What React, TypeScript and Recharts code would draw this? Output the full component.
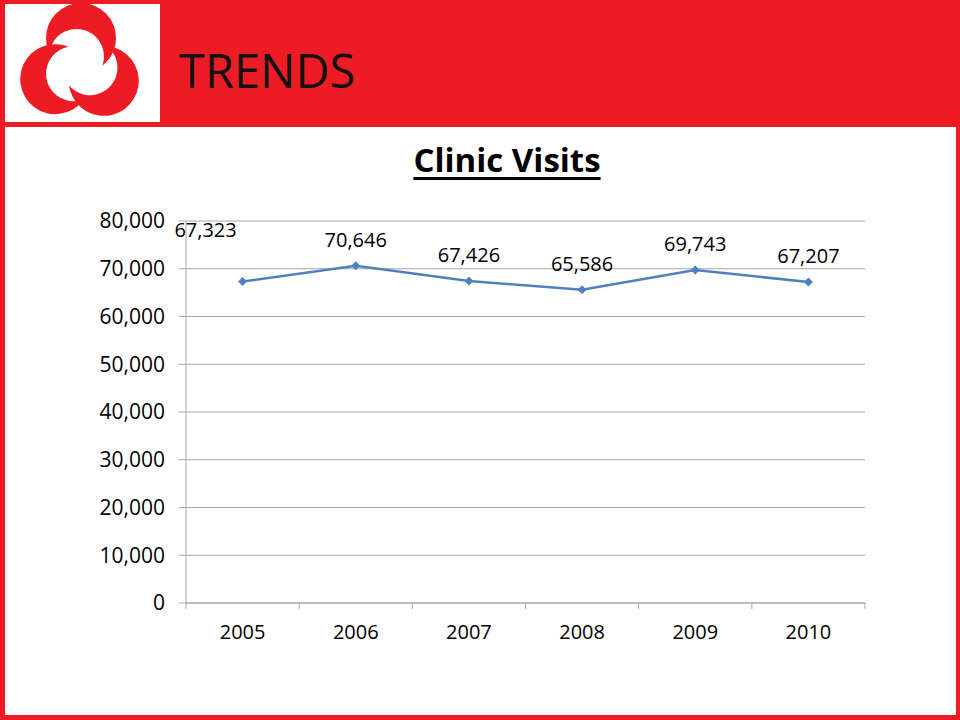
import { LineChart, Line, XAxis, YAxis, CartesianGrid, LabelList } from "recharts";

const years = ["2005", "2006", "2007", "2008", "2009", "2010"];
const visits = [67323, 70646, 67426, 65586, 69743, 67207];
const yTicks = [0, 10000, 20000, 30000, 40000, 50000, 60000, 70000, 80000];

const data = years.map((year, i) => ({ year, visits: visits[i] }));

const RED = "#ED1C24";
const GRID = "#A6A6A6";
const FONT = "'Open Sans', sans-serif";
const PLOT_LEFT = 186;
const PLOT_RIGHT = 865;
const BAND = (PLOT_RIGHT - PLOT_LEFT) / years.length;

const fmt = (v: number) => v.toLocaleString("en-US");

function XTick(props: any) {
  const { x, y, payload, index } = props;
  return (
    <g>
      <line x1={x - BAND / 2} x2={x - BAND / 2} y1={y} y2={y + 6} stroke={GRID} />
      {index === years.length - 1 && (
        <line x1={x + BAND / 2} x2={x + BAND / 2} y1={y} y2={y + 6} stroke={GRID} />
      )}
      <text x={x} y={y + 31} textAnchor="middle" dominantBaseline="middle" fontFamily={FONT} fontSize={20} fill="#000">
        {payload.value}
      </text>
    </g>
  );
}

function Diamond(props: any) {
  const { cx, cy } = props;
  if (cx == null || cy == null) return null;
  const r = 4.5;
  return (
    <polygon
      points={`${cx},${cy - r} ${cx + r},${cy} ${cx},${cy + r} ${cx - r},${cy}`}
      fill="#4F81BD"
    />
  );
}

function ValueLabel(props: any) {
  const { x, y, value, index } = props;
  const dx = index === 0 ? -37 : 0;
  const dy = index === 0 ? -50 : -24;
  return (
    <text x={x + dx} y={y + dy} textAnchor="middle" dominantBaseline="middle" fontFamily={FONT} fontSize={20} fill="#000">
      {fmt(value)}
    </text>
  );
}

// three crescents turned around a common centre
function Logo() {
  const gx = 80;
  const gy = 66;
  return (
    <svg width={155} height={118} viewBox="0 0 155 118">
      <rect width={155} height={118} fill="#fff" />
      <defs>
        <mask id="cut" maskUnits="userSpaceOnUse" x={-50} y={-50} width={300} height={300}>
          <rect x={-50} y={-50} width={300} height={300} fill="#fff" />
          <circle cx={76.5} cy={56.5} r={27.5} fill="#000" />
        </mask>
      </defs>
      <g transform="translate(-5,-4)">
        {[0, 120, 240].map((a) => (
          <g key={a} transform={`rotate(${a} ${gx} ${gy})`}>
            <circle cx={81} cy={38} r={35} fill={RED} mask="url(#cut)" />
          </g>
        ))}
      </g>
    </svg>
  );
}

export default function App() {
  return (
    <div style={{ position: "fixed", left: 0, top: 0, width: 960, height: 720, background: RED, overflow: "hidden" }}>
      <div style={{ position: "absolute", left: 5, top: 4 }}>
        <Logo />
      </div>
      <div
        style={{
          position: "absolute",
          left: 179,
          top: 36,
          fontFamily: FONT,
          fontSize: 47,
          color: "#111",
          lineHeight: "68px",
        }}
      >
        TRENDS
      </div>
      <div style={{ position: "absolute", left: 5, top: 127, width: 951, height: 588, background: "#fff" }} />
      <div
        style={{
          position: "absolute",
          left: 0,
          width: 1014,
          top: 137,
          textAlign: "center",
          fontFamily: FONT,
          fontWeight: 700,
          fontSize: 33,
          textDecoration: "underline",
          textUnderlineOffset: 5,
          textDecorationThickness: 3,
          color: "#000",
          lineHeight: "46px",
        }}
      >
        Clinic Visits
      </div>
      <div style={{ position: "absolute", left: 0, top: 0 }}>
        <LineChart
          width={960}
          height={720}
          data={data}
          margin={{ top: 221, left: PLOT_LEFT - 85, right: 960 - PLOT_RIGHT, bottom: 720 - 603 - 50 }}
        >
          <CartesianGrid vertical={false} stroke={GRID} />
          <XAxis
            dataKey="year"
            height={50}
            padding={{ left: BAND / 2, right: BAND / 2 }}
            axisLine={{ stroke: GRID }}
            tickLine={false}
            tickSize={0}
            tickMargin={0}
            tick={<XTick />}
            interval={0}
          />
          <YAxis
            width={85}
            domain={[0, 80000]}
            ticks={yTicks}
            interval={0}
            tickFormatter={fmt}
            axisLine={{ stroke: GRID }}
            tickLine={{ stroke: GRID }}
            tickSize={7}
            tickMargin={14}
            tick={{ fontFamily: FONT, fontSize: 21, fill: "#000" }}
          />
          <Line
            dataKey="visits"
            stroke="#4F81BD"
            strokeWidth={2.5}
            dot={<Diamond />}
            activeDot={false}
            isAnimationActive={false}
          >
            <LabelList dataKey="visits" content={<ValueLabel />} />
          </Line>
        </LineChart>
      </div>
    </div>
  );
}
